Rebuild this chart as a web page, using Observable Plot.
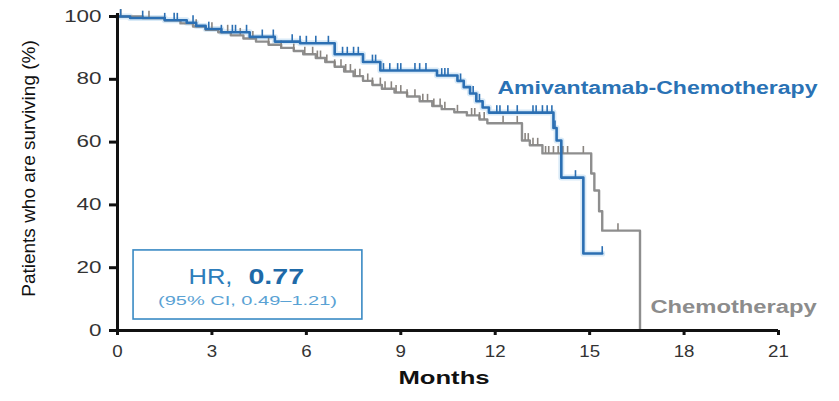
<!DOCTYPE html>
<html><head><meta charset="utf-8">
<script src="https://cdn.jsdelivr.net/npm/d3@7"></script>
<script src="https://cdn.jsdelivr.net/npm/@observablehq/plot@0.6"></script>
<style>
html,body{margin:0;padding:0;background:#fff;}
#chart{width:839px;height:401px;overflow:hidden;}
</style></head><body><div id="chart"></div>
<script>
// ---- data ----
const xTicks = [0, 3, 6, 9, 12, 15, 18, 21];
const yTicks = [0, 20, 40, 60, 80, 100];
const xLabel = "Months";
const yLabel = "Patients who are surviving (%)";
const seriesNames = ["Amivantamab-Chemotherapy", "Chemotherapy"];

const amiTime = [0, 0.4, 1.5, 2.2, 2.5, 2.8, 3.3, 4.2, 5.0, 5.8, 6.9, 7.8, 8.35, 10.15, 10.8, 11.0, 11.2, 11.4, 11.6, 11.8, 13.85, 13.95, 14.1, 14.8, 15.4];
const amiSurv = [100, 99.5, 98.8, 98, 97, 96, 95, 93.5, 92, 91.5, 88, 85.5, 82.8, 81.2, 79.5, 77.5, 75.5, 73, 71, 69.4, 64.5, 60.5, 48.7, 24.5, 24.5];
const amiCensor = [0.1, 0.8, 1.5, 1.8, 1.9, 2.4, 2.9, 3.3, 3.65, 3.75, 4.1, 4.6, 4.95, 5.55, 5.8, 6.0, 6.3, 6.7, 7.15, 7.3, 7.5, 7.65, 8.1, 8.2, 8.45, 8.65, 8.9, 9.0, 9.45, 9.6, 9.8, 10.3, 10.4, 10.5, 10.9, 11.3, 11.5, 12.05, 12.15, 12.4, 12.7, 13.2, 13.3, 13.5, 13.65, 13.8, 13.9, 14.55, 15.4];

const chemoTime = [0, 0.8, 1.5, 2.0, 2.4, 2.8, 3.2, 3.6, 4.0, 4.4, 4.8, 5.2, 5.6, 5.9, 6.3, 6.6, 6.9, 7.2, 7.5, 7.8, 8.1, 8.4, 8.8, 9.2, 9.6, 10.0, 10.3, 10.7, 11.1, 11.5, 11.75, 12.85, 13.1, 13.5, 15.05, 15.15, 15.3, 15.4, 16.6];
const chemoSurv = [100, 99.5, 98.8, 97.8, 96.8, 95.8, 95, 94, 93, 92, 91, 90, 89, 88, 86.8, 85.5, 84, 82.5, 81, 79.5, 78.2, 77, 75.8, 74.5, 73, 71.5, 70.5, 69.5, 68.5, 67.2, 66, 60.5, 59, 56.4, 50, 44.6, 38, 31.8, 0];
const chemoCensor = [0.1, 1.0, 2.5, 3.0, 3.5, 3.9, 4.3, 4.8, 5.2, 5.6, 5.95, 6.2, 6.35, 6.45, 6.65, 6.9, 7.1, 7.25, 7.4, 7.55, 7.7, 7.95, 8.1, 8.35, 8.5, 8.7, 8.85, 9.0, 9.2, 9.45, 9.7, 9.85, 10.05, 10.25, 10.4, 10.8, 11.25, 11.35, 11.5, 11.65, 12.25, 12.7, 12.95, 13.05, 13.2, 13.35, 13.6, 13.7, 13.85, 14.0, 14.15, 14.3, 14.8, 15.9];

const labelMonth = [12.07, 16.93];
const labelPct = [77.1, 7.3];

const hrPrefix = "HR,";
const hrValue = "0.77";
const ciText = "(95% CI, 0.49\u20131.21)";
const hrBoxMonth = [0.51, 7.78];
const hrBoxPct = [3.5, 25.5];
const hrTextMonth = [3.65, 4.16, 4.13];
const hrTextPct = [17.2, 17.2, 9.4];

// ---- build tables ----
const amiPts = amiTime.map((t, i) => ({t, s: amiSurv[i]}));
const chemoPts = chemoTime.map((t, i) => ({t, s: chemoSurv[i]}));
function stepAt(times, surv, t) {
  let v = surv[0];
  for (let i = 0; i < times.length; i++) if (times[i] <= t) v = surv[i];
  return v;
}
const amiTicks = amiCensor.map(t => ({t, s: stepAt(amiTime, amiSurv, t)}));
const chemoTicks = chemoCensor.map(t => ({t, s: stepAt(chemoTime, chemoSurv, t)}));
const labels = seriesNames.map((name, i) => ({name, m: labelMonth[i], p: labelPct[i]}));

const BLUE = "#2b6fb3";
const GRAY = "#8e8e8e";

const chart = Plot.plot({
  width: 839, height: 401,
  marginLeft: 117, marginRight: 61, marginTop: 16, marginBottom: 71,
  style: {fontFamily: "'Liberation Sans', Arial, sans-serif", background: "#fff", overflow: "visible"},
  x: {domain: [0, 21]},
  y: {domain: [0, 100]},
  marks: [
    Plot.rect([0], {x1: () => hrBoxMonth[0], x2: () => hrBoxMonth[1], y1: () => hrBoxPct[0], y2: () => hrBoxPct[1], fill: "white", stroke: "#3a8ac4", strokeWidth: 1.6}),
    Plot.text([hrPrefix], {x: () => hrTextMonth[0], y: () => hrTextPct[0], text: d => d, textAnchor: "end", fontSize: 22, fill: "#2d7dbb"}),
    Plot.text([hrValue], {x: () => hrTextMonth[1], y: () => hrTextPct[1], text: d => d, textAnchor: "start", fontSize: 22, fontWeight: "bold", fill: "#1f6aa8"}),
    Plot.text([ciText], {x: () => hrTextMonth[2], y: () => hrTextPct[2], text: d => d, fontSize: 12.5, fill: "#5aa2d4"}),
    // curves
    Plot.line(amiPts, {x: "t", y: "s", curve: "step-after", stroke: "#bfdcf2", strokeWidth: 6, strokeOpacity: 0.6}),
    Plot.line(chemoPts, {x: "t", y: "s", curve: "step-after", stroke: GRAY, strokeWidth: 2.4}),
    Plot.ruleX(chemoTicks, {x: "t", y1: "s", y2: d => d.s + 2.2, stroke: "#8a8580", strokeWidth: 1.6}),
    Plot.line(amiPts, {x: "t", y: "s", curve: "step-after", stroke: BLUE, strokeWidth: 2.6}),
    Plot.ruleX(amiTicks, {x: "t", y1: "s", y2: d => d.s + 2.2, stroke: BLUE, strokeWidth: 1.6}),
    // axes
    Plot.axisX(xTicks, {tickSize: 5, tickPadding: 9, fontSize: 17, stroke: "#111", strokeWidth: 3, fill: "#333", label: null}),
    Plot.axisY(yTicks, {tickSize: 8, tickPadding: 8, fontSize: 16, stroke: "#111", strokeWidth: 3, fill: "#333", label: null}),
    Plot.ruleY([0], {stroke: "#111", strokeWidth: 3}),
    Plot.ruleX([0], {stroke: "#111", strokeWidth: 3, insetTop: -3}),
    // labels
    Plot.text([xLabel], {frameAnchor: "bottom", text: d => d, dy: 53, dx: -4, fontSize: 19, fontWeight: "bold", fill: "#111"}),
    Plot.text([yLabel], {frameAnchor: "left", textAnchor: "middle", text: d => d, rotate: -90, dx: -89, dy: -5, fontSize: 19, fill: "#111"}),
    Plot.text(labels, {x: "m", y: "p", text: "name", textAnchor: "start", fontSize: 18, fontWeight: "bold", fill: (d, i) => i === 0 ? "#2a72b5" : "#8c8c8c"})
  ]
});
document.getElementById("chart").appendChild(chart);

// horizontal stretching of the text, as in the reference picture
const factors = new Map([
  [seriesNames[0], 1.28], [seriesNames[1], 1.32], [xLabel, 1.35],
  [hrPrefix, 1.16], [hrValue, 1.3], [ciText, 1.6]
]);
chart.querySelectorAll("text").forEach(el => {
  const c = el.textContent;
  let f = null;
  if (factors.has(c)) f = factors.get(c);
  else if (/^\d+$/.test(c)) {
    const anchor = getComputedStyle(el).textAnchor;
    f = anchor === "end" ? 1.4 : 1.1;
  }
  if (f) {
    const L = el.getComputedTextLength();
    if (L > 0) {
      el.setAttribute("textLength", (L * f).toFixed(2));
      el.setAttribute("lengthAdjust", "spacingAndGlyphs");
    }
  }
});
</script>
</body></html>
